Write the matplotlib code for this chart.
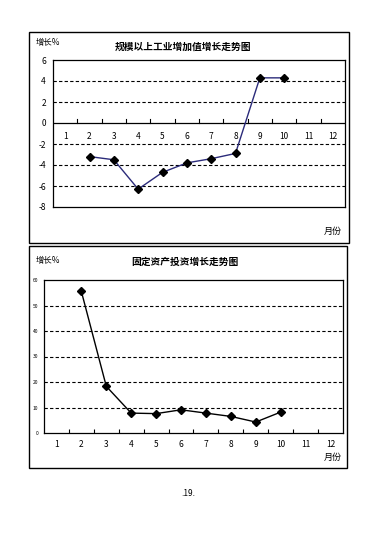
import matplotlib
matplotlib.use("Agg")
import matplotlib.pyplot as plt
from matplotlib.patches import Rectangle
import numpy as np

plt.rcParams['font.family'] = ['Noto Sans CJK SC', 'DejaVu Sans']

months = list(range(1, 13))
ind_months = [2, 3, 4, 5, 6, 7, 8, 9, 10]
ind_values = [-3.2, -3.5, -6.3, -4.7, -3.8, -3.4, -2.9, 4.3, 4.3]
inv_months = [2, 3, 4, 5, 6, 7, 8, 9, 10]
inv_values = [55.5, 18.3, 7.8, 7.6, 9.1, 7.8, 6.5, 4.3, 8.2]
ind_yticks = [-8, -6, -4, -2, 0, 2, 4, 6]
inv_yticks = [0, 10, 20, 30, 40, 50, 60]
title1 = "规模以上工业增加值增长走势图"
title2 = "固定资产投资增长走势图"

W, H = 391, 538
fig = plt.figure(figsize=(W / 100, H / 100), dpi=100)

def px_axes(x0, y0, x1, y1):
    return fig.add_axes([x0 / W, 1 - y1 / H, (x1 - x0) / W, (y1 - y0) / H])

def box(x0, y0, x1, y1):
    fig.patches.append(Rectangle((x0 / W, 1 - y1 / H), (x1 - x0) / W, (y1 - y0) / H,
                                 transform=fig.transFigure, fill=False, lw=1.0, ec='black'))

def ftext(x, y, s, **kw):
    fig.text(x / W, 1 - y / H, s, **kw)

# outer frames
box(29, 32, 349, 243)
box(29, 246, 347, 468)

# ---- top chart ----
ax1 = px_axes(53, 60, 345, 207)
ax1.set_xlim(0.5, 12.5)
ax1.set_ylim(-8, 6)
for v in [-6, -4, -2, 2, 4]:
    ax1.axhline(v, color='black', lw=0.8, ls=(0, (3, 2)))
ax1.axhline(0, color='black', lw=0.9)
ax1.plot(ind_months, ind_values, color='#2b2b7a', lw=1.0, marker='D',
         markersize=3.6, mfc='black', mec='black', zorder=5)
ax1.set_yticks(ind_yticks)
ax1.set_yticklabels([str(v) for v in ind_yticks], fontsize=6)
ax1.tick_params(axis='y', length=0, pad=5)
ax1.set_xticks([])
for k in range(1, 12):
    ax1.plot([k + 0.5, k + 0.5], [0, 0.35], color='black', lw=0.8)
for m in months:
    ax1.text(m, -1.25, str(m), ha='center', va='center', fontsize=6)
for s in ax1.spines.values():
    s.set_linewidth(0.9)

ftext(36, 43, "增长%", fontsize=6, ha='left', va='center')
ftext(183, 47, title1, fontsize=7, fontweight='bold', ha='center', va='center')
ftext(333, 231, "月份", fontsize=6.5, ha='center', va='center')

# ---- bottom chart ----
ax2 = px_axes(44, 280, 343, 433)
ax2.set_xlim(0.5, 12.5)
ax2.set_ylim(0, 60)
for v in [10, 20, 30, 40, 50]:
    ax2.axhline(v, color='black', lw=0.8, ls=(0, (3, 2)))
ax2.plot(inv_months, inv_values, color='black', lw=1.0, marker='D',
         markersize=3.6, mfc='black', mec='black', zorder=5)
ax2.set_yticks(inv_yticks)
ax2.set_yticklabels([str(v) for v in inv_yticks], fontsize=3.5)
ax2.tick_params(axis='y', length=0, pad=4)
ax2.set_xticks([k + 0.5 for k in range(1, 12)])
ax2.set_xticklabels([])
ax2.tick_params(axis='x', direction='in', length=3, width=0.8)
for m in months:
    ax2.text(m, -4.5, str(m), ha='center', va='center', fontsize=6)
for s in ax2.spines.values():
    s.set_linewidth(0.9)

ftext(36, 260, "增长%", fontsize=6, ha='left', va='center')
ftext(185, 262, title2, fontsize=7, fontweight='bold', ha='center', va='center')
ftext(333, 457, "月份", fontsize=6.5, ha='center', va='center')

ftext(188, 493, ".19.", fontsize=6, ha='center', va='center')

fig.savefig("out.png", dpi=100)
